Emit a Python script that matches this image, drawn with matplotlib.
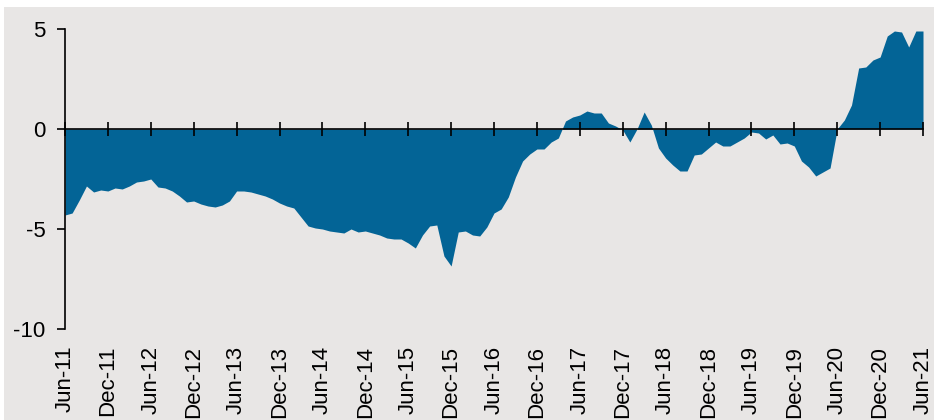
import numpy as np
import pandas as pd
import matplotlib
matplotlib.use('Agg')
from matplotlib import pyplot as plt
from matplotlib.patches import Rectangle

# monthly series, Jun-11 .. Jun-21
months = pd.date_range('2011-06-01', periods=121, freq='MS')
values = [
    -4.3, -4.2, -3.55, -2.85, -3.15, -3.05, -3.1, -2.95, -3.0, -2.85, -2.65, -2.6,
    -2.5, -2.9, -2.95, -3.1, -3.35, -3.65, -3.6, -3.75, -3.85, -3.9, -3.8, -3.6,
    -3.1, -3.1, -3.15, -3.25, -3.35, -3.5, -3.7, -3.85, -3.95, -4.4, -4.85, -4.95,
    -5.0, -5.1, -5.15, -5.2, -5.0, -5.15, -5.1, -5.2, -5.3, -5.45, -5.5, -5.5,
    -5.7, -5.95, -5.3, -4.85, -4.8, -6.35, -6.85, -5.15, -5.1, -5.3, -5.35, -4.9,
    -4.2, -4.0, -3.4, -2.4, -1.6, -1.25, -1.0, -1.0, -0.65, -0.45, 0.4, 0.6,
    0.7, 0.9, 0.8, 0.8, 0.3, 0.15, -0.05, -0.65, 0.0, 0.85, 0.2, -0.95,
    -1.45, -1.8, -2.1, -2.1, -1.3, -1.25, -0.95, -0.65, -0.85, -0.85, -0.65, -0.45,
    -0.15, -0.2, -0.5, -0.3, -0.75, -0.7, -0.85, -1.6, -1.9, -2.35, -2.15, -1.95,
    0.0, 0.45, 1.2, 3.05, 3.1, 3.45, 3.6, 4.65, 4.9, 4.85, 4.1, 4.9,
    4.9,
]
y_ticks = [5, 0, -5, -10]

plt.rcParams['font.family'] = ['Liberation Sans', 'DejaVu Sans']
bg = '#e8e6e5'
blue = '#036496'

x = np.arange(len(months))
tick_pos = x[::6]
tick_labels = [d.strftime('%b-%y') for d in months[::6]]

fig = plt.figure(figsize=(9.34, 4.2), dpi=100, facecolor='white')
fig.patches.append(Rectangle((4 / 934, 0), 1, 1 - 7 / 420, transform=fig.transFigure,
                             facecolor=bg, edgecolor='none', zorder=-10))
ax = fig.add_axes([65 / 934, 1 - 329 / 420, (923 - 65) / 934, 300 / 420])
ax.set_facecolor('none')

ax.fill_between(x, values, 0, color=blue, linewidth=0)

ax.set_xlim(0, 120)
ax.set_ylim(-10, 5)
ax.set_yticks(y_ticks)
ax.set_yticklabels([str(v) for v in y_ticks])

for s in ['top', 'right']:
    ax.spines[s].set_visible(False)
ax.spines['left'].set_linewidth(1.2)
ax.spines['bottom'].set_position(('data', 0))
ax.spines['bottom'].set_linewidth(1.2)
ax.spines['bottom'].set_zorder(3)

ax.set_xticks(tick_pos)
ax.tick_params(axis='x', direction='inout', length=10, width=1.2, labelbottom=False)
ax.tick_params(axis='y', direction='out', length=6, width=1.2, pad=8, labelsize=16)

# labels along the bottom edge
sec = ax.secondary_xaxis('bottom')
sec.set_xticks(tick_pos)
sec.set_xticklabels(tick_labels, rotation=90, va='top', fontsize=16)
sec.spines['bottom'].set_visible(False)
sec.tick_params(length=0, pad=12)

plt.savefig('out.png', dpi=100, facecolor=fig.get_facecolor())
